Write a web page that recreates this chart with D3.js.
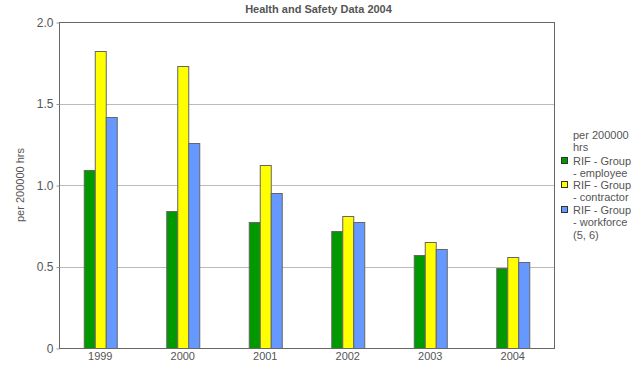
<!DOCTYPE html>
<html>
<head>
<meta charset="utf-8">
<script src="https://cdn.jsdelivr.net/npm/d3@7"></script>
<style>
  body { margin: 0; background: #fff; }
  svg { display: block; font-family: "Liberation Sans", Arial, sans-serif; }
</style>
</head>
<body>
<div id="chart"></div>
<script>
const years = ["1999", "2000", "2001", "2002", "2003", "2004"];
const seriesNames = ["RIF - Group - employee", "RIF - Group - contractor", "RIF - Group - workforce (5, 6)"];
const employee = [1.09, 0.84, 0.77, 0.72, 0.57, 0.49];
const contractor = [1.82, 1.73, 1.12, 0.81, 0.65, 0.56];
const workforce = [1.42, 1.26, 0.95, 0.77, 0.61, 0.53];
const yTicks = [0, 0.5, 1.0, 1.5, 2.0];
const colors = ["#009900", "#ffff00", "#6699ff"];
const legendLines = [
  ["RIF - Group", "- employee"],
  ["RIF - Group", "- contractor"],
  ["RIF - Group", "- workforce", "(5, 6)"]
];

const width = 637, height = 368;
const margin = { top: 22, right: 83, bottom: 20, left: 59 };
const textColor = "#555";

const svg = d3.select("#chart").append("svg")
  .attr("width", width)
  .attr("height", height);

const x0 = d3.scaleBand()
  .domain(years)
  .range([margin.left, width - margin.right])
  .paddingInner(0.6)
  .paddingOuter(0.3);

const x1 = d3.scaleBand()
  .domain(d3.range(seriesNames.length))
  .range([0, x0.bandwidth()]);

const y = d3.scaleLinear()
  .domain([0, 2])
  .range([height - margin.bottom, margin.top]);

// gridlines
svg.append("g")
  .selectAll("line")
  .data(yTicks.filter(d => d > 0 && d < 2))
  .join("line")
  .attr("x1", margin.left)
  .attr("x2", width - margin.right)
  .attr("y1", d => Math.round(y(d)) + 0.5)
  .attr("y2", d => Math.round(y(d)) + 0.5)
  .attr("stroke", "#bbb");

// bars
const rows = years.map((yr, i) => ({ year: yr, values: [employee[i], contractor[i], workforce[i]] }));

svg.append("g")
  .selectAll("g")
  .data(rows)
  .join("g")
  .attr("transform", d => `translate(${x0(d.year)},0)`)
  .selectAll("rect")
  .data(d => d.values.map((v, k) => ({ k, v })))
  .join("rect")
  .attr("x", d => Math.round(x1(d.k)) + 0.5)
  .attr("y", d => Math.round(y(d.v)) + 0.5)
  .attr("width", x1.bandwidth())
  .attr("height", d => Math.round(y(0)) - Math.round(y(d.v)))
  .attr("fill", d => colors[d.k])
  .attr("stroke", "#666")
  .attr("stroke-width", 1);

// plot frame
svg.append("rect")
  .attr("x", margin.left + 0.5)
  .attr("y", margin.top + 0.5)
  .attr("width", width - margin.left - margin.right)
  .attr("height", height - margin.top - margin.bottom)
  .attr("fill", "none")
  .attr("stroke", "#666");

// y axis
svg.append("g")
  .attr("transform", `translate(${margin.left + 0.5},0.5)`)
  .call(d3.axisLeft(y)
    .tickValues(yTicks)
    .tickSize(3)
    .tickPadding(3)
    .tickFormat(d => d === 0 ? "0" : d3.format(".1f")(d)))
  .call(g => g.select(".domain").remove())
  .call(g => g.selectAll(".tick line").attr("stroke", "#999"))
  .call(g => g.selectAll("text").attr("fill", textColor).attr("font-size", 12).attr("font-family", null));

// x axis
svg.append("g")
  .attr("transform", `translate(0,${height - margin.bottom})`)
  .call(d3.axisBottom(x0).tickSize(0).tickPadding(4))
  .call(g => g.select(".domain").remove())
  .call(g => g.selectAll("text").attr("fill", textColor).attr("font-size", 11).attr("font-family", null));

// title
svg.append("text")
  .attr("x", width / 2)
  .attr("y", 13)
  .attr("text-anchor", "middle")
  .attr("font-size", 11)
  .attr("font-weight", "bold")
  .attr("fill", textColor)
  .text("Health and Safety Data 2004");

// y label
svg.append("text")
  .attr("transform", `translate(24,${(margin.top + height - margin.bottom) / 2}) rotate(-90)`)
  .attr("text-anchor", "middle")
  .attr("font-size", 11)
  .attr("fill", textColor)
  .text("per 200000 hrs");

// legend
const legend = svg.append("g").attr("transform", "translate(561,0)");
legend.append("text")
  .attr("x", 12)
  .attr("y", 139)
  .attr("font-size", 11)
  .attr("fill", textColor)
  .selectAll("tspan")
  .data(["per 200000", "hrs"])
  .join("tspan")
  .attr("x", 12)
  .attr("dy", (d, i) => i === 0 ? 0 : 12)
  .text(d => d);

const lineH = 12.3;
const starts = [165, 189, 214];
seriesNames.forEach((name, k) => {
  legend.append("rect")
    .attr("x", 0.5)
    .attr("y", starts[k] - 7.5)
    .attr("width", 6)
    .attr("height", 6)
    .attr("fill", colors[k])
    .attr("stroke", "#333");
  legend.append("text")
    .attr("y", starts[k])
    .attr("font-size", 11)
    .attr("fill", textColor)
    .selectAll("tspan")
    .data(legendLines[k])
    .join("tspan")
    .attr("x", 12)
    .attr("dy", (d, i) => i === 0 ? 0 : lineH)
    .text(d => d);
});
</script>
</body>
</html>
